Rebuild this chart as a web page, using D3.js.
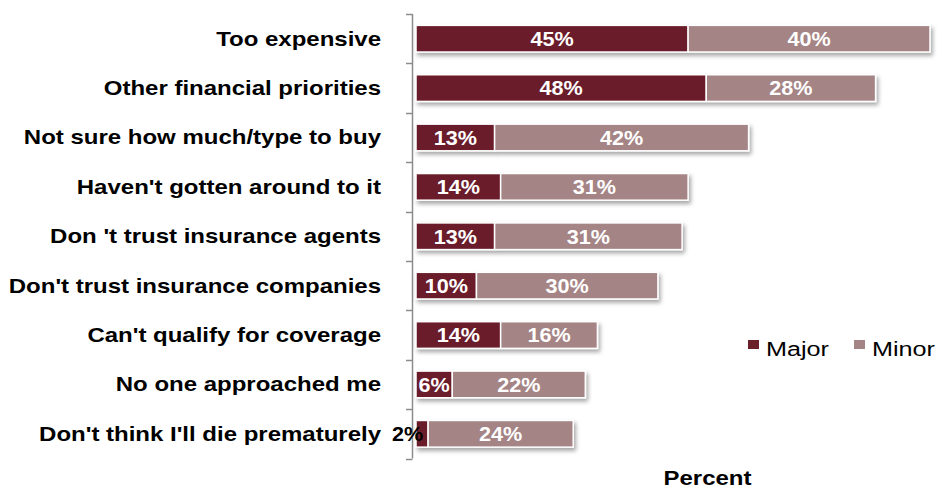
<!DOCTYPE html>
<html>
<head>
<meta charset="utf-8">
<script src="https://cdn.jsdelivr.net/npm/d3@7"></script>
<style>
  html, body { margin: 0; padding: 0; background: #fff; }
  svg { display: block; font-family: "Liberation Sans", Arial, sans-serif; }
</style>
</head>
<body>
<svg id="chart" width="940" height="489"></svg>
<script>
// Reasons for not buying (more) life insurance
const categories = [
  "Too expensive",
  "Other financial priorities",
  "Not sure how much/type  to buy",
  "Haven't gotten around to it",
  "Don 't trust insurance agents",
  "Don't trust insurance companies",
  "Can't qualify  for coverage",
  "No one approached me",
  "Don't think I'll die prematurely"
];
const majorValues = [45, 48, 13, 14, 13, 10, 14, 6, 2];
const minorValues = [40, 28, 42, 31, 31, 30, 16, 22, 24];
const seriesNames = ["Major", "Minor"];
const seriesColors = ["#6A1F29", "#A58485"];
const axisTitle = "Percent";

const svg = d3.select("#chart");

const defs = svg.append("defs");
const shadow = defs.append("filter").attr("id", "barShadow")
  .attr("x", "-5%").attr("y", "-30%").attr("width", "115%").attr("height", "180%");
shadow.append("feDropShadow")
  .attr("dx", 2).attr("dy", 3).attr("stdDeviation", 2)
  .attr("flood-color", "#000").attr("flood-opacity", 0.35);

const x = d3.scaleLinear().domain([0, 85]).range([416, 930]);
const y = d3.scaleBand().domain(categories).range([14, 458.5]).paddingInner(0.46).paddingOuter(0.23);

// Text drawn with a slight horizontal widening of the glyphs
function stretchedText(parent, px, py, str, sx) {
  return parent.append("text")
    .attr("transform", `translate(${px},${py}) scale(${sx},1)`)
    .text(str);
}

// Category axis on the left: vertical rule with boundary ticks
const axisG = svg.append("g");
const y0 = y.range()[0], y1 = y.range()[1];
axisG.append("line")
  .attr("x1", 412.5).attr("x2", 412.5).attr("y1", y0).attr("y2", y1)
  .attr("stroke", "#8c8c8c").attr("stroke-width", 1.5);
d3.range(categories.length + 1).forEach(i => {
  const ty = Math.round(y0 + i * (y1 - y0) / categories.length) + 0.5;
  axisG.append("line")
    .attr("x1", 406).attr("x2", 412.5).attr("y1", ty).attr("y2", ty)
    .attr("stroke", "#8c8c8c").attr("stroke-width", 1.5);
});

// Category labels
const labelG = svg.append("g")
  .attr("font-size", 20).attr("font-weight", "bold").attr("fill", "#000")
  .attr("text-anchor", "end");
categories.forEach(c => {
  stretchedText(labelG, 381, y(c) + y.bandwidth() / 2 + 7, c.replace(/  /g, " "), 1.2);
});

// Stacked bars
const rows = categories.map((c, i) => ({
  cat: c,
  segs: [
    { s: 0, v0: 0, v1: majorValues[i], val: majorValues[i] },
    { s: 1, v0: majorValues[i], v1: majorValues[i] + minorValues[i], val: minorValues[i] }
  ]
}));

const barG = svg.append("g");
rows.forEach(r => {
  const g = barG.append("g").attr("filter", "url(#barShadow)");
  g.selectAll("rect").data(r.segs).join("rect")
    .attr("x", d => x(d.v0))
    .attr("y", y(r.cat))
    .attr("width", d => x(d.v1) - x(d.v0))
    .attr("height", y.bandwidth())
    .attr("fill", d => seriesColors[d.s])
    .attr("stroke", "#fff").attr("stroke-width", 1.5);
});

// Value labels
const valG = svg.append("g").attr("font-size", 20).attr("font-weight", "bold");
rows.forEach(r => {
  const cy = y(r.cat) + y.bandwidth() / 2 + 7.3;
  r.segs.forEach(d => {
    if (d.val < 5) {
      stretchedText(valG, x(d.v1) - 5, cy, d.val + "%", 1.08)
        .attr("text-anchor", "end").attr("fill", "#000");
    } else {
      stretchedText(valG, (x(d.v0) + x(d.v1)) / 2, cy, d.val + "%", 1.08)
        .attr("text-anchor", "middle").attr("fill", "#fff");
    }
  });
});

// Legend
const legend = svg.append("g").attr("font-size", 21).attr("fill", "#000");
const legendX = [748, 854];
seriesNames.forEach((n, i) => {
  legend.append("rect")
    .attr("x", legendX[i]).attr("y", 340).attr("width", 11).attr("height", 9)
    .attr("fill", seriesColors[i]);
  stretchedText(legend, legendX[i] + 18, 355.5, n, 1.2);
});

// Value axis title
stretchedText(svg.append("g").attr("font-size", 20).attr("font-weight", "bold"), 707.5, 484.5, axisTitle, 1.2)
  .attr("text-anchor", "middle");
</script>
</body>
</html>
